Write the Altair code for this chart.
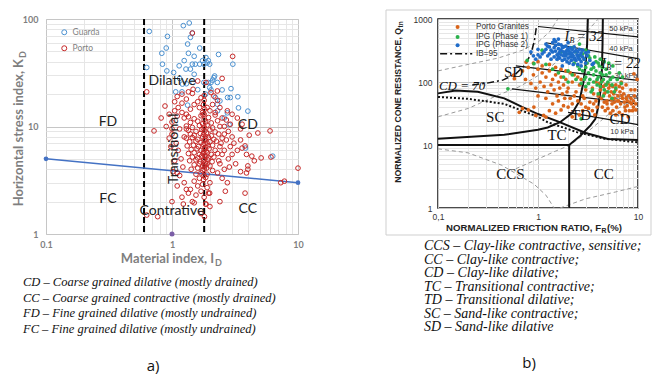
import altair as alt
import pandas as pd

# ======================= panel a) data =======================
guarda = [(0.66,76.7),(0.63,35.4),(1.37,91.8),(1.23,86.7),(0.92,68.9),(1.40,67.5),(1.45,74),(1.33,58.5),
          (1.66,53.7),(0.90,53.7),(0.83,48),(1.35,48),(1.25,41),(0.84,38),(1.14,36.7),(1.45,38),(1.53,38),
          (1.66,38),(1.86,43.8),(1.94,41),(1.79,38),(1.99,38),(2.34,46.8),(3.04,38),(0.91,32.9),(1.03,31.8),
          (1.29,34.2),(1.40,34.2),(1.50,30.6),(1.21,24.8),(1.47,25.7),(1.79,25.7),(1.94,25.7),(2.04,25.7),
          (2.15,28.5),(2.18,29.5),(2.29,25.7),(1.99,23),(2.04,21.9),(2.5,21.9),(2.94,22.5),(1.07,21),(1.2,21),
          (2.21,18.6),(2.4,17.3),(2.76,18.6),(2.9,18.6),(3.33,18.9),(1.33,15.8),(2.29,16.1),(2.75,13.4),
          (3.37,14.9),(4.0,13.9),(2.84,10.4),(3.83,6.3),(6.3,5.3),(1.9,39),(1.75,41),(2.1,27),(2.3,14),
          (1.6,22),(1.85,20),(2.6,12),(1.5,45),(1.15,28),(1.3,25)]
porto = [(1.35,12.3),(1.5,11.8),(1.7,12.6),(1.8,11.5),(1.95,12.1),(2.2,12.8),
         (1.4,10.9),(1.6,11.2),(1.75,10.6),(1.85,11.0),(2.05,10.8),(2.3,11.3),
         (1.3,10.1),(1.45,9.8),(1.65,10.2),(1.8,9.9),(1.9,10.3),(2.1,9.7),(2.4,10.0),
         (1.35,9.2),(1.55,9.0),(1.72,9.4),(1.82,9.1),(2.0,9.3),(2.2,8.9),
         (1.4,8.5),(1.5,8.3),(1.68,8.6),(1.78,8.4),(1.88,8.7),(2.05,8.2),(2.35,8.5),
         (1.3,7.8),(1.45,7.9),(1.6,7.6),(1.75,8.0),(1.85,7.7),(1.95,7.9),(2.15,7.6),(2.5,7.8),
         (1.38,7.2),(1.55,7.3),(1.7,7.1),(1.8,7.4),(1.9,7.0),(2.0,7.2),(2.25,7.3),
         (1.32,6.6),(1.48,6.7),(1.62,6.5),(1.77,6.8),(1.83,6.4),(1.93,6.6),(2.1,6.7),(2.4,6.5),
         (1.42,6.1),(1.58,6.2),(1.7,6.0),(1.8,6.1),(1.87,5.9),(1.97,6.2),(2.2,6.0),
         (1.35,5.6),(1.5,5.7),(1.65,5.5),(1.76,5.6),(1.82,5.4),(1.9,5.7),(2.05,5.5),(2.3,5.6),
         (1.45,5.2),(1.6,5.1),(1.72,5.3),(1.79,5.0),(1.86,5.2),(1.95,5.1),(2.15,5.2),
         (1.38,4.8),(1.55,4.9),(1.68,4.7),(1.78,4.8),(1.84,4.6),(1.92,4.9),(2.08,4.7),(2.35,4.8),
         (1.5,4.4),(1.65,4.5),(1.75,4.3),(1.82,4.4),(1.9,4.5),(2.0,4.3),
         (1.42,4.0),(1.6,4.1),(1.74,3.9),(1.8,4.0),(1.88,4.1),(2.1,3.9),
         (1.55,3.6),(1.7,3.7),(1.8,3.5),(1.9,3.6),(1.65,3.3),(1.78,3.2),(1.85,3.35),
         (1.8,13),(1.82,14.5),(1.78,16),(1.8,17.5),(1.83,6.9),(1.79,5.8),(1.81,4.2),(1.77,9.6),(1.84,8.1),(1.76,12.9),
         (0.88,15.5),(0.95,13),(1.0,11),(1.05,14),(1.1,12.5),(1.15,9.5),(1.2,13.5),(1.25,8),(1.0,8.5),(1.08,7),
         (1.12,6),(1.18,5),(1.22,4.2),(1.05,4.8),(0.98,6.5),(1.15,3.5),(1.25,3.0),(1.3,2.6),(1.2,2.2),(1.1,2.8),
         (1.35,2.4),(1.45,2.0),(1.4,2.6),(1.55,2.3),(1.6,2.8),(1.5,3.1),(1.7,2.5),(1.75,2.9),(1.8,2.2),(1.9,2.7),
         (2.0,3.0),(1.95,2.4),(1.85,1.9),(1.81,1.45),(1.7,1.55),(1.5,1.95),(1.23,1.9),(1.0,2.0),
         (1.3,13),(1.4,14.5),(1.5,16),(1.6,17),(1.7,18.5),(1.8,19.4),(1.45,20.3),(1.47,22.2),(1.6,26.5),
         (1.86,25.7),(2.04,20.7),(2.15,19.2),(2.29,21.4),(1.9,15),(2.0,14),(2.1,16),(2.2,13.5),(2.4,15),
         (2.3,17.5),(1.65,15),(1.75,13.5),(1.2,16.5),(1.3,18),(1.1,19),(1.35,21),(1.25,12),
         (2.5,12),(2.6,10),(2.7,11.5),(2.8,9),(2.9,10.5),(3.0,8),(2.6,8.5),(2.45,7),(2.7,7.5),(2.9,6.5),
         (3.1,7),(3.3,6),(2.6,6),(2.5,5.5),(2.8,5),(3.0,5.5),(2.4,4.5),(2.6,4),(2.85,4.2),(3.2,4.5),
         (2.3,3.7),(2.5,3.3),(2.75,3.0),(3.6,6.3),(3.8,6.6),(3.5,7.5),(3.9,5.5),(3.3,12),(3.5,9.5),(3.0,13),
         (2.75,14),(3.03,44.9),(0.72,9.1),(0.63,21),(0.63,1.5),(0.77,1.45),(1.45,74),(2.4,2.0),(2.65,2.5),
         (3.8,2.4),(7.3,3.0),(7.8,3.1),(10,4.1),(6.0,9.1),(6.1,5.2),(4.8,8.7),(4.1,8.3),(5.1,5.1),
         (4.5,4.8),(4.0,4.3),(4.0,4.0),(3.9,3.7),(3.5,3.8),(4.3,5.3),(3.6,10.5),(2.5,28),(1.99,2.4),
         (1.86,1.9),(2.0,1.8),(0.9,10),(1.0,9.5),(0.95,7.8),(1.02,3.8),(1.1,3.7),(1.3,9.5),(1.12,15),
         (1.2,20),(1.05,17),(0.82,12)]
trend_id = [0.1, 10.0]
trend_kd = [5.0, 3.0]
divider_id = [0.6, 1.8]
single_id = [1.0]
single_kd = [1.0]
zone_a_text = ["FD", "CD", "FC", "CC", "Dilative", "Contrative"]
zone_a_id = [0.31, 4.0, 0.31, 4.0, 1.0, 1.0]
zone_a_kd = [11.0, 10.3, 2.12, 1.71, 26.5, 1.64]
caption_a = ["CD \u2013 Coarse grained dilative (mostly drained)",
             "CC \u2013 Coarse grained contractive (mostly drained)",
             "FD \u2013 Fine grained dilative (mostly undrained)",
             "FC \u2013 Fine grained dilative (mostly undrained)"]
grid_a_x = [0.1,0.2,0.3,0.4,0.5,0.6,0.7,0.8,0.9,1,2,3,4,5,6,7,8,9,10]
grid_a_y = [1,2,3,4,5,6,7,8,9,10,20,30,40,50,60,70,80,90,100]

# ======================= panel b) data =======================
phase2 = [(1.2,330),(1.3,360),(1.4,300),(1.5,380),(1.6,280),(1.7,320),(1.8,260),(1.9,300),(2.0,240),(2.1,280),
          (2.2,250),(2.3,300),(2.4,220),(2.5,260),(2.6,230),(2.7,210),(2.8,250),(3.0,200),(1.25,260),(1.35,230),
          (1.45,250),(1.55,230),(1.65,240),(1.75,220),(1.85,230),(1.95,210),(2.05,200),(2.15,220),(2.25,190),
          (2.35,240),(1.4,420),(1.5,440),(1.6,400),(1.7,390),(1.8,360),(1.9,370),(2.0,340),(2.1,350),(2.2,330),
          (2.3,360),(2.4,320),(2.5,300),(2.6,330),(2.7,290),(1.1,280),(1.15,300),(1.05,250),(1.0,270),(0.95,230),
          (0.9,260),(1.6,340),(1.7,270),(1.8,300),(1.9,260),(2.0,280),(2.1,250),(2.2,270),(2.3,230),(1.5,310),
          (1.6,250),(1.3,280),(1.35,320),(1.45,350),(1.55,270),(1.65,300),(1.75,350),(1.85,280),(1.95,320),
          (2.05,310),(2.15,290),(2.25,260),(2.45,270),(2.55,240),(2.65,270),(2.9,230),(3.1,260),(3.3,220),
          (3.5,190),(1.2,400),(1.25,370),(1.0,330),(0.85,300),(2.8,320),(3.0,290),(3.2,300),(2.0,420),
          (1.75,180),(2.5,190),(2.7,180),(3.6,200),(1.6,480),(1.45,470)]
phase1 = [(2.3,200),(2.5,180),(2.6,160),(2.8,150),(3.0,170),(3.2,140),(3.4,160),(3.6,130),(3.8,150),(4.0,120),
          (4.2,140),(4.5,110),(4.8,130),(5.0,100),(5.5,90),(6.0,80),(3.0,120),(3.3,110),(3.6,100),(3.9,90),
          (4.2,85),(4.6,75),(5.0,70),(3.1,200),(3.5,190),(3.8,210),(4.1,180),(4.4,170),(4.8,160),(5.2,140),
          (5.6,120),(6.2,110),(6.8,95),(2.9,230),(3.3,240),(3.7,250),(4.2,230),(4.6,210),(5.1,200),(5.6,180),
          (2.2,130),(2.4,110),(2.7,95),(3.0,85),(3.5,75),(4.0,65),(4.5,60),(5.5,55),(3.4,70),(2.6,260),
          (2.4,300),(2.8,280),(3.0,320),(2.2,350),(2.6,400),(3.2,260),(3.6,170),(4.0,200),(4.4,130),(3.2,95),
          (2.9,110),(4.8,90),(5.3,110),(6.5,140),(7.0,120),(1.6,140),(1.8,120),(2.0,150),(2.0,100),(1.4,160),
          (1.2,190),(1.1,320),(0.91,195),(0.78,220),(0.5,78),(2.7,26),(1.9,280),(1.7,300),(3.9,110),(4.3,100),(5.8,70)]
granite = [(0.7,150),(0.8,170),(0.9,130),(1.0,160),(1.1,140),(1.2,120),(1.3,150),(1.4,110),(1.5,130),(1.6,100),
           (1.7,120),(1.8,90),(1.9,110),(2.0,80),(2.2,100),(2.4,70),(2.6,90),(2.8,60),(3.0,75),(0.75,110),
           (0.85,95),(0.95,80),(1.05,100),(1.15,85),(1.25,70),(1.35,90),(1.45,75),(1.55,60),(1.65,80),(1.75,65),
           (1.85,55),(1.95,70),(2.1,55),(2.3,60),(2.5,50),(2.7,45),(2.9,55),(1.0,60),(1.2,55),(1.4,45),(1.6,50),
           (1.8,42),(2.0,40),(2.2,45),(1.1,180),(1.3,190),(1.5,170),(1.7,160),(1.9,150),(2.1,140),(2.3,130),
           (2.5,120),(2.7,110),(0.9,200),(1.0,210),(0.76,207),(0.58,113),(0.57,128),(0.65,33),(0.91,40),
           (0.95,29.5),(1.14,29.5),(1.2,27.8),(0.8,36),(0.7,38),(1.3,35),(1.5,32),(1.7,36),
           (4.0,60),(4.3,55),(4.6,65),(4.9,50),(5.2,60),(5.5,45),(5.8,55),(6.1,40),(6.4,50),(6.7,45),(7.0,55),
           (7.4,40),(7.8,50),(8.2,35),(8.6,45),(9.0,50),(9.5,45),(4.2,75),(4.5,85),(4.8,70),(5.1,80),(5.4,70),
           (5.7,65),(6.0,75),(6.3,60),(6.6,70),(6.9,60),(7.2,65),(7.6,55),(8.0,60),(8.5,55),(9.2,60),(4.4,40),
           (4.7,35),(5.0,38),(5.3,32),(5.6,35),(6.0,30),(6.5,33),(7.0,30),(7.5,35),(8.0,28),(8.8,35),(9.5,36),
           (3.6,45),(3.8,50),(3.9,40),(3.5,35),(3.7,30),(3.2,38),(3.3,48),(4.1,95),(4.4,105),(4.7,90),(5.0,95),
           (5.3,88),(5.6,85),(6.0,90),(6.5,85),(7.0,80),(3.5,80),(3.8,100),(3.6,65),(3.0,40),(2.8,35),(6.2,50),
           (5.8,48),(5.4,52),(4.9,45),(4.6,48),(7.3,48),(7.8,42),(8.3,48),(9.0,40),(9.1,135),(9.8,110),(8.5,75),
           (9.3,75),(6.8,100),(7.6,90),(2.6,30),(2.2,28)]

bold_curves = {
    "CD70": ([0.1, 0.15, 0.25, 0.46, 0.7, 1.0, 1.6, 3.0, 5.0, 10.0], [66, 73, 70, 55, 40, 31, 23.5, 15.5, 12.5, 12.0]),
    "IB32": ([0.1, 0.46, 1.0, 1.25, 1.66, 2.2, 2.6, 2.85, 3.0, 3.1, 3.15], [12.6, 14.5, 17.5, 19, 23, 32, 50, 100, 200, 400, 1000]),
    "IB22": ([2.05, 2.65, 3.35, 3.75, 4.0, 4.2, 4.35, 4.42, 4.45], [10, 14, 20.5, 26, 40, 70, 150, 400, 1000]),
    "Q10": ([0.1, 2.05], [10, 10]),
    "F2": ([2.05, 2.05], [10, 1]),
}
dotted_f = [0.1, 0.2, 0.46, 1.0, 1.25, 2.45, 4.6, 10.0]
dotted_q = [58, 54, 45, 28, 23, 16, 12.6, 11.0]
ib95_f = [0.22, 0.3, 0.45, 0.6, 0.75, 0.85, 0.92, 0.97]
ib95_q = [90, 95, 108, 135, 190, 280, 450, 800]
kpa_curves = {
    "k50": ([1.0, 10.0], [760, 520]),
    "k40": ([1.2, 10.0], [420, 235]),
    "k30": ([0.6, 10.0], [180, 106]),
    "k20": ([0.55, 10.0], [78, 45]),
    "k10": ([2.0, 10.0], [33, 21]),
}
gray_curves = {
    "g1": ([0.1, 0.2, 0.4, 0.7, 1.0, 1.3, 1.58], [150, 190, 240, 320, 430, 620, 1000]),
    "g2": ([0.1, 0.2, 0.4, 0.66, 1.2, 2.0, 3.0, 4.0], [28, 38, 62, 85, 150, 300, 600, 1000]),
    "g3": ([0.6, 1.0, 1.5, 2.1, 3.1, 5.0, 10.0], [4.2, 6, 8, 10, 16, 30, 60]),
    "g4": ([0.1, 0.2, 0.43, 0.91, 1.2, 1.45], [8.7, 7.5, 4.8, 2.4, 1.6, 1.0]),
    "g5": ([1.66, 3.0, 6.0, 10.0], [1.0, 1.4, 1.8, 2.2]),
}
zone_b_text = ["SD", "SC", "TC", "TD", "CD", "CCS", "CC"]
zone_b_f = [0.57, 0.374, 1.55, 2.69, 6.6, 0.53, 4.54]
zone_b_q = [144, 27.8, 14.3, 29.6, 25.5, 3.5, 3.5]
kpa_text = ["50 kPa", "40 kPa", "30 kPa", "20 kPa", "10 kPa"]
kpa_f = [6.76, 6.76, 7.6, 7.6, 6.9]
kpa_q = [694, 334, 126, 58, 16.0]
ib_label_f = [1.84, 4.3]
ib_label_q = [512, 193]
ib_label_val = ["= 32", "= 22"]
legend_b_text = ["Porto Granites", "IPG (Phase 1)", "IPG (Phase 2)", "IB=95"]
legend_b_q = [746, 518, 382, 281]
caption_b = ["CCS \u2013 Clay-like contractive, sensitive;",
             "CC \u2013 Clay-like contractive;",
             "CD \u2013 Clay-like dilative;",
             "TC \u2013 Transitional contractive;",
             "TD \u2013 Transitional dilative;",
             "SC \u2013 Sand-like contractive;",
             "SD \u2013 Sand-like dilative"]
grid_b_x = grid_a_x
grid_b_y = [1,2,3,4,5,6,7,8,9,10,20,30,40,50,60,70,80,90,100,200,300,400,500,600,700,800,900,1000]

# ======================= panel a) chart =======================
W1, H1 = 252, 215
GRAY = "#7f7f7f"
grid_cond = {"condition": {"test": "datum.value == 0.1 || datum.value == 1 || datum.value == 10 || datum.value == 100 || datum.value == 1000",
                           "value": "#c6c6c6"}, "value": "#e6e6e6"}
xs1 = alt.Scale(type="log", domain=[0.1, 10])
ys1 = alt.Scale(type="log", domain=[1, 100])
ax1x = alt.Axis(values=grid_a_x, title=None, grid=True, gridColor=grid_cond, ticks=False, domain=False,
                labelExpr="datum.value == 0.1 ? '0.1' : datum.value == 1 ? '1' : datum.value == 10 ? '10' : ''",
                labelOverlap=False, labelFlush=False, labelFont="Lato", labelFontSize=9, labelFontWeight="bold",
                labelColor=GRAY, labelPadding=6)
ax1y = alt.Axis(values=grid_a_y, title=None, grid=True, gridColor=grid_cond, ticks=False, domain=False,
                labelExpr="datum.value == 1 ? '1' : datum.value == 10 ? '10' : datum.value == 100 ? '100' : ''",
                labelOverlap=False, labelFont="Lato", labelFontSize=9, labelFontWeight="bold",
                labelColor=GRAY, labelPadding=8)

pts_a = pd.DataFrame({"ID": [p[0] for p in guarda] + [p[0] for p in porto],
                      "KD": [p[1] for p in guarda] + [p[1] for p in porto],
                      "Site": ["Guarda"] * len(guarda) + ["Porto"] * len(porto)})
X1 = lambda: alt.X("ID:Q", scale=xs1, axis=ax1x)
Y1 = lambda: alt.Y("KD:Q", scale=ys1, axis=ax1y)

a_points = alt.Chart(pts_a).mark_point(shape="circle", filled=False, size=22, strokeWidth=1, opacity=1).encode(
    x=X1(), y=Y1(),
    color=alt.Color("Site:N", scale=alt.Scale(domain=["Guarda", "Porto"], range=["#4a90d0", "#c62828"]),
                    legend=alt.Legend(title=None, orient="none", legendX=14, legendY=9, labelFont="Lato",
                                      labelFontSize=8.5, labelColor=GRAY, symbolSize=25, symbolStrokeWidth=1,
                                      rowPadding=6, padding=0)))
a_div = alt.Chart(pd.DataFrame({"ID": divider_id})).mark_rule(color="black", strokeWidth=2, strokeDash=[6, 3]).encode(x=X1())
a_trend = alt.Chart(pd.DataFrame({"ID": trend_id, "KD": trend_kd})).mark_line(
    color="#4472c4", strokeWidth=1.5, point=alt.OverlayMarkDef(color="#4472c4", size=22, filled=True)).encode(x=X1(), y=Y1())
a_single = alt.Chart(pd.DataFrame({"ID": single_id, "KD": single_kd})).mark_circle(color="#7b5ea7", size=25, opacity=1).encode(x=X1(), y=Y1())
a_zone = alt.Chart(pd.DataFrame({"ID": zone_a_id, "KD": zone_a_kd, "t": zone_a_text})).mark_text(
    font="Lato", fontSize=14, color="#222").encode(x=X1(), y=Y1(), text="t:N")
a_trans = alt.Chart(pd.DataFrame({"ID": [1.03], "KD": [6.2], "t": ["Transitional"]})).mark_text(
    font="Lato", fontSize=14, color="#222", angle=270).encode(x=X1(), y=Y1(), text="t:N")
one = pd.DataFrame({"k": [0]})
a_xt1 = alt.Chart(one).mark_text(font="Lato", fontSize=13, fontWeight="bold", color=GRAY, align="right", baseline="middle").encode(
    x=alt.value(168), y=alt.value(240), text=alt.value("Material index, I"))
a_xt2 = alt.Chart(one).mark_text(font="Lato", fontSize=9, fontWeight="bold", color=GRAY, align="left", baseline="middle", dx=1, dy=4).encode(
    x=alt.value(168), y=alt.value(240), text=alt.value("D"))
a_yt1 = alt.Chart(one).mark_text(font="Lato", fontSize=13, fontWeight="bold", color=GRAY, align="right", baseline="middle", angle=270).encode(
    x=alt.value(-27), y=alt.value(40), text=alt.value("Horizontal stress index, K"))
a_yt2 = alt.Chart(one).mark_text(font="Lato", fontSize=9, fontWeight="bold", color=GRAY, align="left", baseline="middle", angle=270, dx=1, dy=4).encode(
    x=alt.value(-27), y=alt.value(40), text=alt.value("D"))
a_cap = alt.Chart(one).mark_text(font="Liberation Serif", fontStyle="italic", fontSize=12.5, color="#111", align="left",
                                 baseline="top", lineHeight=15.5).encode(
    x=alt.value(-23), y=alt.value(257), text=alt.value(caption_a))
a_lab = alt.Chart(one).mark_text(font="Open Sans", fontSize=15, color="#111").encode(
    x=alt.value(107), y=alt.value(347), text=alt.value("a)"))

panel_a = alt.layer(a_div, a_trend, a_points, a_single, a_zone, a_trans, a_xt1, a_xt2, a_yt1, a_yt2, a_cap, a_lab).properties(
    width=W1, height=H1, view=alt.ViewBackground(stroke="#d0d0d0", strokeWidth=1))

# ======================= panel b) chart =======================
W2, H2 = 200, 189
xs2 = alt.Scale(type="log", domain=[0.1, 10])
ys2 = alt.Scale(type="log", domain=[1, 1000])
ax2x = alt.Axis(values=grid_b_x, title=None, grid=True, gridColor=grid_cond, ticks=False, domain=False,
                labelExpr="datum.value == 0.1 ? '0,1' : datum.value == 1 ? '1' : datum.value == 10 ? '10' : ''",
                labelOverlap=False, labelFlush=False, labelFont="Liberation Sans", labelFontSize=8.5,
                labelColor="#333", labelPadding=4)
ax2y = alt.Axis(values=grid_b_y, title=None, grid=True, gridColor=grid_cond, ticks=False, domain=False,
                labelExpr="datum.value == 1 ? '1' : datum.value == 10 ? '10' : datum.value == 100 ? '100' : datum.value == 1000 ? '1000' : ''",
                labelOverlap=False, labelFont="Liberation Sans", labelFontSize=8.5, labelColor="#333", labelPadding=6)
X2 = lambda: alt.X("F:Q", scale=xs2, axis=ax2x)
Y2 = lambda: alt.Y("Q:Q", scale=ys2, axis=ax2y)


def curves_df(d):
    rows = []
    for name, (fs, qs) in d.items():
        for i, (f, q) in enumerate(zip(fs, qs)):
            rows.append({"name": name, "i": i, "F": f, "Q": q})
    return pd.DataFrame(rows)


b_frame = alt.Chart(one).mark_rect(filled=False, stroke="#cfcfcf", strokeWidth=1).encode(
    x=alt.value(-52), x2=alt.value(213), y=alt.value(-9), y2=alt.value(216))
b_gray = alt.Chart(curves_df(gray_curves)).mark_line(color="#9a9a9a", strokeWidth=1, strokeDash=[4, 3]).encode(
    x=X2(), y=Y2(), detail="name:N", order="i:Q")
b_kpa = alt.Chart(curves_df(kpa_curves)).mark_line(color="#111", strokeWidth=1.2).encode(
    x=X2(), y=Y2(), detail="name:N", order="i:Q")
b_kpa_t = alt.Chart(pd.DataFrame({"F": kpa_f, "Q": kpa_q, "t": kpa_text})).mark_text(
    font="Liberation Sans", fontSize=7.5, color="#333").encode(x=X2(), y=Y2(), text="t:N")
b_bold = alt.Chart(curves_df(bold_curves)).mark_line(color="#111", strokeWidth=2).encode(
    x=X2(), y=Y2(), detail="name:N", order="i:Q")
b_dot = alt.Chart(pd.DataFrame({"F": dotted_f, "Q": dotted_q, "i": list(range(len(dotted_f)))})).mark_line(
    color="#111", strokeWidth=2, strokeDash=[2, 2]).encode(x=X2(), y=Y2(), order="i:Q")
b_ib95 = alt.Chart(pd.DataFrame({"F": ib95_f, "Q": ib95_q, "i": list(range(len(ib95_f)))})).mark_line(
    color="#111", strokeWidth=1.5, strokeDash=[7, 3, 2, 3]).encode(x=X2(), y=Y2(), order="i:Q")

pts_b = pd.DataFrame({"F": [p[0] for p in granite] + [p[0] for p in phase1] + [p[0] for p in phase2],
                      "Q": [p[1] for p in granite] + [p[1] for p in phase1] + [p[1] for p in phase2],
                      "S": ["Porto Granites"] * len(granite) + ["IPG (Phase 1)"] * len(phase1) + ["IPG (Phase 2)"] * len(phase2)})
cs_b = alt.Scale(domain=["Porto Granites", "IPG (Phase 1)", "IPG (Phase 2)"], range=["#d9641a", "#2bb24c", "#1f6cc9"])
b_pts = alt.Chart(pts_b).mark_circle(size=14, opacity=1).encode(
    x=X2(), y=Y2(), color=alt.Color("S:N", scale=cs_b, legend=None))
b_zone = alt.Chart(pd.DataFrame({"F": zone_b_f, "Q": zone_b_q, "t": zone_b_text})).mark_text(
    font="Liberation Serif", fontSize=15, color="#111").encode(x=X2(), y=Y2(), text="t:N")
b_cd70 = alt.Chart(pd.DataFrame({"F": [0.174], "Q": [85.6], "t": ["CD = 70"]})).mark_text(
    font="Liberation Serif", fontStyle="italic", fontSize=13, color="#111").encode(x=X2(), y=Y2(), text="t:N")
ibdf = pd.DataFrame({"F": ib_label_f, "Q": ib_label_q, "v": ib_label_val})
b_ib_i = alt.Chart(ibdf).mark_text(font="Liberation Serif", fontStyle="italic", fontSize=14, color="#111", align="left").encode(
    x=X2(), y=Y2(), text=alt.value("I"))
b_ib_b = alt.Chart(ibdf).mark_text(font="Liberation Serif", fontStyle="italic", fontSize=8, color="#111", align="left", dx=5, dy=4).encode(
    x=X2(), y=Y2(), text=alt.value("B"))
b_ib_v = alt.Chart(ibdf).mark_text(font="Liberation Serif", fontStyle="italic", fontSize=14, color="#111", align="left", dx=12).encode(
    x=X2(), y=Y2(), text="v:N")
leg_pts = pd.DataFrame({"F": [0.157] * 3, "Q": legend_b_q[:3], "S": legend_b_text[:3]})
b_leg_pts = alt.Chart(leg_pts).mark_circle(size=16, opacity=1).encode(
    x=X2(), y=Y2(), color=alt.Color("S:N", scale=cs_b, legend=None))
b_leg_line = alt.Chart(pd.DataFrame({"F": [0.105, 0.22], "Q": [legend_b_q[3]] * 2})).mark_line(
    color="#111", strokeWidth=1.5, strokeDash=[7, 3, 2, 3]).encode(x=X2(), y=Y2())
b_leg_t = alt.Chart(pd.DataFrame({"F": [0.24] * 4, "Q": legend_b_q, "t": legend_b_text})).mark_text(
    font="Liberation Sans", fontSize=8.2, color="#333", align="left").encode(x=X2(), y=Y2(), text="t:N")
b_xt1 = alt.Chart(one).mark_text(font="Liberation Sans", fontSize=9.6, fontWeight="bold", color="#222", align="right", baseline="middle").encode(
    x=alt.value(163), y=alt.value(209), text=alt.value("NORMALIZED FRICTION RATIO, F"))
b_xt2 = alt.Chart(one).mark_text(font="Liberation Sans", fontSize=6.8, fontWeight="bold", color="#222", align="left", baseline="middle", dx=0.5, dy=3).encode(
    x=alt.value(163), y=alt.value(209), text=alt.value("R"))
b_xt3 = alt.Chart(one).mark_text(font="Liberation Sans", fontSize=9.6, fontWeight="bold", color="#222", align="left", baseline="middle", dx=6).encode(
    x=alt.value(163), y=alt.value(209), text=alt.value(" (%)"))
b_yt1 = alt.Chart(one).mark_text(font="Liberation Sans", fontSize=8.7, fontWeight="bold", color="#222", align="right", baseline="middle", angle=270).encode(
    x=alt.value(-40), y=alt.value(9), text=alt.value("NORMALIZED CONE RESISTANCE, Q"))
b_yt2 = alt.Chart(one).mark_text(font="Liberation Sans", fontSize=6.5, fontWeight="bold", color="#222", align="left", baseline="middle", angle=270, dx=0.5, dy=3).encode(
    x=alt.value(-40), y=alt.value(9), text=alt.value("tn"))
b_cap = alt.Chart(one).mark_text(font="Liberation Serif", fontStyle="italic", fontSize=14, color="#111", align="left",
                                 baseline="top", lineHeight=13.5).encode(
    x=alt.value(-14), y=alt.value(220), text=alt.value(caption_b))
b_lab = alt.Chart(one).mark_text(font="Open Sans", fontSize=15, color="#111").encode(
    x=alt.value(91), y=alt.value(344), text=alt.value("b)"))

panel_b = alt.layer(b_frame, b_gray, b_kpa, b_kpa_t, b_bold, b_dot, b_ib95, b_pts, b_zone, b_cd70, b_ib_i, b_ib_b, b_ib_v,
                    b_leg_pts, b_leg_line, b_leg_t, b_xt1, b_xt2, b_xt3, b_yt1, b_yt2, b_cap, b_lab).properties(
    width=W2, height=H2, view=alt.ViewBackground(stroke="#111", strokeWidth=1.5))

chart = alt.hconcat(panel_a, panel_b, spacing=80).properties(
    padding={"left": 4, "top": 0, "right": 0, "bottom": 0}, background="white"
).resolve_scale(color="independent")

chart.save("out.html", embed_options={"renderer": "svg", "actions": False})
